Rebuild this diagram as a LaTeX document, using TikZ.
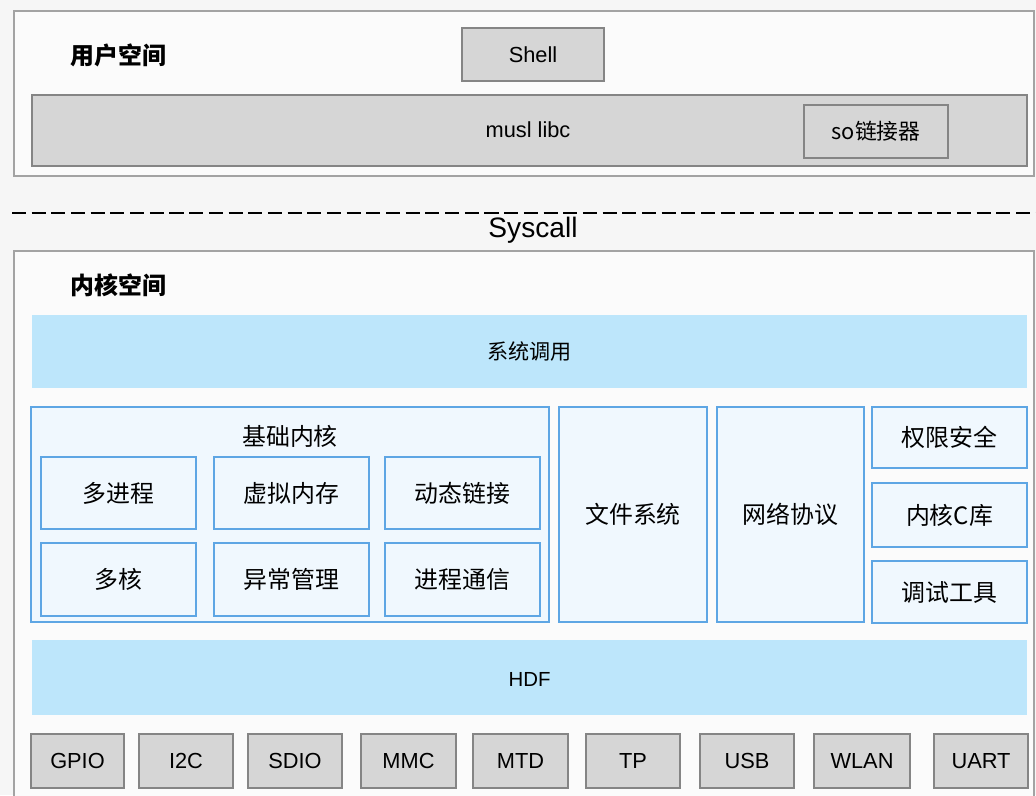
\documentclass[tikz,border=0pt]{standalone}
\usepackage{fontspec}
\setmainfont{Liberation Sans}
\newfontfamily\cjk{Noto Sans CJK SC}
\definecolor{pagegray}{HTML}{F6F6F6}
\definecolor{framegray}{HTML}{A3A3A3}
\definecolor{boxgray}{HTML}{D6D6D6}
\definecolor{linegray}{HTML}{858585}
\definecolor{bandblue}{HTML}{BDE6FB}
\definecolor{boxblue}{HTML}{F0F8FE}
\definecolor{lineblue}{HTML}{5EA6E4}
\tikzset{
	outerbox/.style={draw=framegray, line width=1pt, fill=white!60!pagegray},
	graybox/.style={draw=linegray, line width=1pt, fill=boxgray},
	band/.style={fill=bandblue},
	bluebox/.style={draw=lineblue, line width=1pt, fill=boxblue},
	title/.style={font=\cjk\bfseries\fontsize{17}{20}\selectfont, anchor=west},
	cjklabel/.style={font=\cjk\fontsize{17}{20}\selectfont},
	bandlabel/.style={font=\cjk\fontsize{15}{18}\selectfont},
	latinlabel/.style={font=\fontsize{15.5}{18}\selectfont}
}
\begin{document}
\begin{tikzpicture}[x=0.025cm, y=-0.025cm]
	\useasboundingbox[fill=pagegray] (0, 0) rectangle (1036, 795);
	\clip (0, 0) rectangle (1036, 795);

	% Benutzerraum
	\filldraw[outerbox] (14, 11) rectangle (1034, 176);
	\node[title] (user) at (66, 55) {用户空间};
	\filldraw[graybox] (462, 28) rectangle (604, 81);
	\node[latinlabel] (shell) at (533, 54.5) {Shell};
	\filldraw[graybox] (32, 95) rectangle (1027, 166);
	\node[latinlabel] (libc) at (528, 130) {musl libc};
	\filldraw[graybox] (804, 105) rectangle (948, 158);
	\node[cjklabel, font=\cjk\fontsize{15.5}{18}\selectfont] (linker) at (876, 131.5) {so链接器};

	% Syscall-Grenze
	\draw[line width=2pt, dash pattern=on 10pt off 4pt] (12, 213) -- (1036, 213);
	\node[font=\fontsize{20}{24}\selectfont] (syscall) at (533, 230) {Syscall};

	% Kernelraum
	\filldraw[outerbox] (14, 251) rectangle (1034, 805);
	\node[title] (kernel) at (66, 285) {内核空间};
	\fill[band] (32, 315) rectangle (1027, 388);
	\node[bandlabel] (sys) at (529.5, 351.5) {系统调用};

	% Basiskern
	\filldraw[bluebox] (31, 407) rectangle (549, 622);
	\node[cjklabel] (basic) at (290, 436) {基础内核};
	\filldraw[bluebox] (41, 457) rectangle (196, 529);
	\node[cjklabel] (proc) at (118.5, 493) {多进程};
	\filldraw[bluebox] (214, 457) rectangle (369, 529);
	\node[cjklabel] (vmem) at (291.5, 493) {虚拟内存};
	\filldraw[bluebox] (385, 457) rectangle (540, 529);
	\node[cjklabel] (dynlink) at (462.5, 493) {动态链接};
	\filldraw[bluebox] (41, 543) rectangle (196, 616);
	\node[cjklabel] (smp) at (118.5, 579.5) {多核};
	\filldraw[bluebox] (214, 543) rectangle (369, 616);
	\node[cjklabel] (except) at (291.5, 579.5) {异常管理};
	\filldraw[bluebox] (385, 543) rectangle (540, 616);
	\node[cjklabel] (ipc) at (462.5, 579.5) {进程通信};

	% Dateisystem, Netzwerk
	\filldraw[bluebox] (559, 407) rectangle (707, 622);
	\node[cjklabel] (fs) at (633, 514.5) {文件系统};
	\filldraw[bluebox] (717, 407) rectangle (864, 622);
	\node[cjklabel] (net) at (790.5, 514.5) {网络协议};

	% rechte Spalte
	\filldraw[bluebox] (872, 407) rectangle (1027, 468);
	\node[cjklabel] (perm) at (949.5, 437.5) {权限安全};
	\filldraw[bluebox] (872, 483) rectangle (1027, 547);
	\node[cjklabel] (klibc) at (949.5, 515) {内核C库};
	\filldraw[bluebox] (872, 561) rectangle (1027, 623);
	\node[cjklabel] (debug) at (949.5, 592) {调试工具};

	% HDF
	\fill[band] (32, 640) rectangle (1027, 715);
	\node[latinlabel, font=\fontsize{14.5}{18}\selectfont] (hdf) at (529.5, 679.5) {HDF};

	% Treiber unten
	\foreach \l/\r/\name in {31/124/GPIO, 139/233/I2C, 248/342/SDIO, 361/456/MMC,
		473/568/MTD, 586/680/TP, 700/794/USB, 814/910/WLAN, 934/1028/UART}
	{
		\filldraw[graybox] (\l, 734) rectangle (\r, 788);
		\node[latinlabel] (\name) at ({(\l+\r)/2}, 761) {\name};
	}
\end{tikzpicture}
\end{document}
